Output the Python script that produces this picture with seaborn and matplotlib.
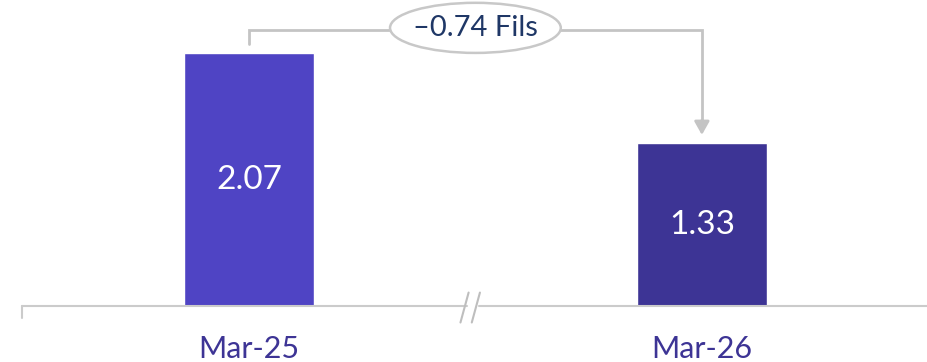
import matplotlib
matplotlib.use('Agg')
import matplotlib.pyplot as plt
from matplotlib.patches import Ellipse
import seaborn as sns
import pandas as pd

periods = ['Mar-25', 'Mar-26']
values = [2.07, 1.33]
bar_colors = ['#4F44C4', '#3D3495']
unit = 'Fils'

sns.set_style('white')
plt.rcParams['font.family'] = ['Lato', 'DejaVu Sans']

df = pd.DataFrame({'period': periods, 'value': values})

fig = plt.figure(figsize=(9.27, 3.62), dpi=100)
ax = fig.add_axes([22 / 927, 56 / 362, 905 / 927, 306 / 362])

sns.barplot(data=df, x='period', y='value', hue='period', palette=bar_colors,
            width=0.287, legend=False, ax=ax, saturation=1)
for c in ax.containers:
    ax.bar_label(c, fmt='%.2f', label_type='center', color='white', fontsize=24)

ax.set_xlim(-0.501, 1.497)
ax.set_ylim(0, 2.504)
sns.despine(ax=ax, left=True, bottom=True)
ax.set_yticks([])
ax.set_xlabel('')
ax.set_ylabel('')
ax.tick_params(axis='x', length=0, pad=21, labelsize=22, labelcolor='#3D3495')

# baseline with break marks
axis_col = '#CBCBCB'
xl = ax.get_xlim()
ax.plot([xl[0], 0.482], [0, 0], color=axis_col, lw=1.5, clip_on=False)
ax.plot([0.508, xl[1]], [0, 0], color=axis_col, lw=1.5, clip_on=False)
ax.plot([xl[0], xl[0]], [0, -0.1], color=axis_col, lw=1.5, clip_on=False)
for x0 in [0.475, 0.500]:
    ax.plot([x0 - 0.008, x0 + 0.010], [-0.135, 0.11], color='#BEBEBE', lw=1.5, clip_on=False)

# change bracket
gap = 0.07
top = max(values) + 0.19
br_col = '#C4C4C4'
ax.plot([0, 0, 1, 1], [values[0] + gap, top, top, values[1] + gap + 0.1],
        color=br_col, lw=2, solid_joinstyle='miter', clip_on=False)
ax.annotate('', xy=(1, values[1] + gap), xytext=(1, values[1] + gap + 0.12),
            arrowprops=dict(arrowstyle='-|>,head_length=0.8,head_width=0.45',
                            color=br_col, lw=2, shrinkA=0, shrinkB=0))
ax.add_patch(Ellipse((0.5, top + 0.016), 0.377, 0.41, facecolor='white',
                     edgecolor='#C8C8C8', lw=1.8, clip_on=False, zorder=3))
diff = values[1] - values[0]
ax.text(0.5, top + 0.016, f'\u2013{abs(diff):.2f} {unit}', ha='center', va='center',
        fontsize=21, color='#1F3766', zorder=4)

fig.savefig('out.png', dpi=100)
